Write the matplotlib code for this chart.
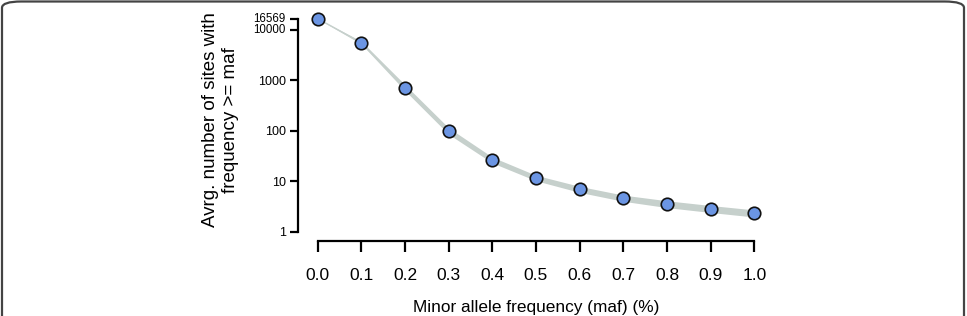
import matplotlib
matplotlib.use('Agg')
import matplotlib.pyplot as plt
from matplotlib.patches import FancyBboxPatch

plt.rcParams['font.family'] = ['Liberation Sans', 'DejaVu Sans']

# Данные: частота минорного аллеля и среднее число сайтов
maf = [0.0, 0.1, 0.2, 0.3, 0.4, 0.5, 0.6, 0.7, 0.8, 0.9, 1.0]
sites = [16569, 5530, 710, 98.6, 26.3, 11.6, 6.9, 4.6, 3.5, 2.8, 2.3]
sites_low = [16400, 5200, 620, 85, 23.0, 10.2, 6.0, 4.0, 3.0, 2.4, 1.95]
sites_high = [16750, 5900, 815, 114, 30.0, 13.1, 7.9, 5.3, 4.1, 3.3, 2.7]

ytick_vals = [1, 10, 100, 1000, 10000, 16569]
ytick_labels = ['1', '10', '100', '1000', '10000', '16569']
xtick_vals = maf
xtick_labels = ['%.1f' % v for v in maf]

fig = plt.figure(figsize=(9.67, 3.16), dpi=100)

# рамка вокруг рисунка
frame = FancyBboxPatch((2 / 967, -0.1), 962 / 967, 1.1 - 1.5 / 316,
                       boxstyle='round,pad=0,rounding_size=0.02',
                       transform=fig.transFigure, fill=False,
                       edgecolor='#444444', linewidth=1.6, clip_on=False)
fig.patches.append(frame)

ax = fig.add_axes([0.3285, 0.2668, 0.4515, 0.6743])

ax.fill_between(maf, sites_low, sites_high, color='#c6d0cc', linewidth=0, zorder=1)
ax.plot(maf, sites, color='#c6d0cc', linewidth=1.0, zorder=2)
ax.plot(maf, sites, linestyle='none', marker='o', markersize=9,
        markerfacecolor='#6b95e3', markeredgecolor='#111111',
        markeredgewidth=1.2, zorder=3, clip_on=False)

ax.set_yscale('log')
ax.set_xlim(0, 1)
ax.set_ylim(1, 16569)

ax.spines['top'].set_visible(False)
ax.spines['right'].set_visible(False)
ax.spines['left'].set_position(('outward', 14))
ax.spines['bottom'].set_position(('outward', 6.5))
ax.spines['left'].set_bounds(1, 16569)
ax.spines['bottom'].set_bounds(0, 1)
ax.spines['left'].set_linewidth(1.6)
ax.spines['bottom'].set_linewidth(1.6)

ax.set_yticks(ytick_vals)
ax.set_yticklabels(ytick_labels)
ax.yaxis.set_minor_locator(matplotlib.ticker.NullLocator())
ax.tick_params(axis='y', length=6, width=1.6, labelsize=9, pad=3)
for lbl in ax.get_yticklabels():
    if lbl.get_text() in ('10000', '16569'):
        lbl.set_fontsize(8.3)
        lbl.set_va('center')

ax.set_xticks(xtick_vals)
ax.set_xticklabels(xtick_labels)
ax.tick_params(axis='x', length=8, width=1.6, labelsize=12.5, pad=12)

ax.set_xlabel('Minor allele frequency (maf) (%)', fontsize=12.4, labelpad=12)
ax.set_ylabel('Avrg. number of sites with\nfrequency >= maf', fontsize=13.5,
              linespacing=1.2)
ax.yaxis.set_label_coords(-0.18, 0.524)

fig.savefig('out.png', dpi=100)
